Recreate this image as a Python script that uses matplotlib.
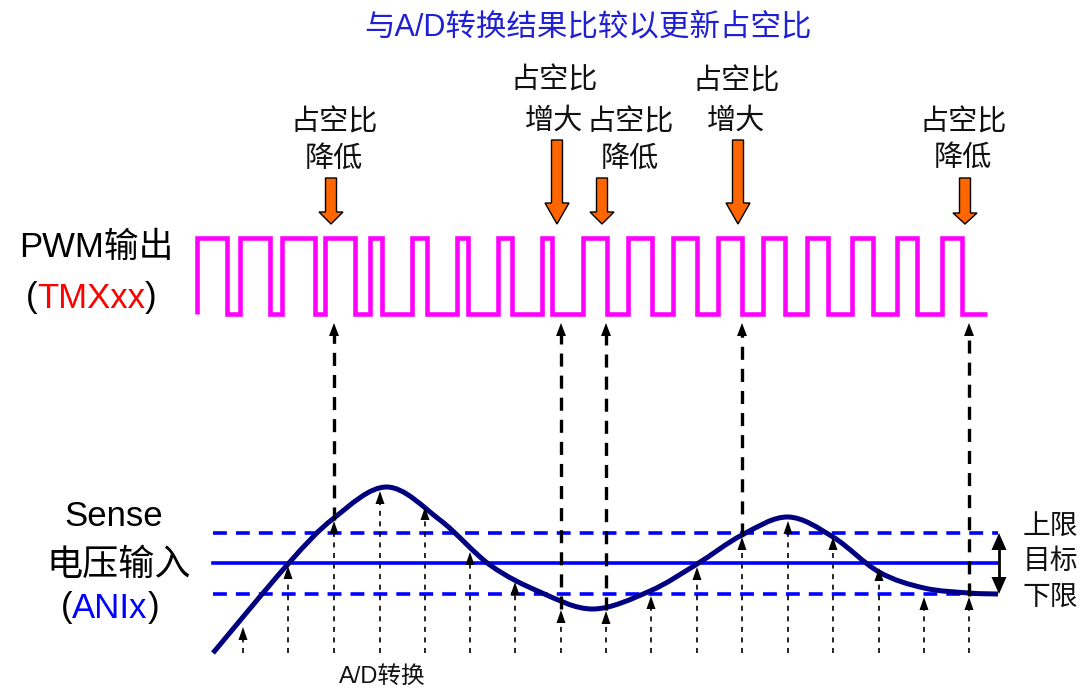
import matplotlib
matplotlib.use('Agg')
import matplotlib.pyplot as plt
from matplotlib.patches import FancyArrow, PathPatch
from matplotlib.path import Path

plt.rcParams['lines.scale_dashes'] = False
FONT = ['Liberation Sans', 'Noto Sans CJK SC', 'DejaVu Sans']
plt.rcParams['font.family'] = FONT

# ---------------- data (pixel space of the diagram) ----------------
title = "与A/D转换结果比较以更新占空比"

pwm_rise = [197, 240, 282, 325, 370, 412, 457, 498, 542, 583, 628, 673, 718, 763, 807, 852, 897, 942]
pwm_fall = [227, 270, 315, 355, 382, 427, 468, 512, 552, 607, 652, 697, 742, 785, 828, 873, 917, 962]
pwm_end = 987
pwm_high = 238
pwm_low = 314

sense_x = [213, 288, 334, 387, 440, 490, 540, 593, 650, 697, 742, 788, 833, 879, 924, 969, 998]
sense_y = [653, 564, 518, 487, 520, 565, 592, 609, 591, 564, 535, 517, 537, 572, 588, 593, 594]

upper_limit = 533
target = 563
lower_limit = 594
limit_x = [213, 998]

sample_x = [243, 288, 334, 380, 425, 470, 515, 561, 606, 651, 697, 742, 788, 833, 879, 924, 969]
sample_tip = [627, 566, 521, 491, 507, 552, 582, 610, 611, 596, 567, 537, 521, 537, 568, 597, 597]
sample_base = 653
update_idx = [2, 7, 8, 11, 16]
update_top = 323

duty_x = [331, 557, 602, 738, 965]
duty_top = [178, 140, 178, 140, 178]
duty_tip = 224
duty_head = [12, 21, 12, 21, 11]
duty_line1 = ["占空比", "占空比", "占空比", "占空比", "占空比"]
duty_line2 = ["降低", "增大", "降低", "增大", "降低"]
duty_tx = [334, 554, 630, 736, 963]
duty_ty1 = [122, 80, 122, 81, 122]
duty_ty2 = [159, 121, 159, 121, 158]

limit_labels = ["上限", "目标", "下限"]
limit_label_y = [527, 562, 598]

# ---------------- figure ----------------
fig = plt.figure(figsize=(10.82, 6.90), dpi=100)
ax = fig.add_axes([0, 0, 1, 1])
ax.set_xlim(0, 1082)
ax.set_ylim(690, 0)
ax.axis('off')


def head(x, tip, length, width, up=True, color='black'):
    # up=True: arrow points towards smaller y (upwards on the page)
    s = 1 if up else -1
    ax.fill([x - width / 2, x, x + width / 2], [tip + s * length, tip, tip + s * length],
            color=color, lw=0, zorder=5)


def smooth_path(xs, ys):
    pts = list(zip(xs, ys))
    verts = [pts[0]]
    codes = [Path.MOVETO]
    n = len(pts)
    for i in range(n - 1):
        p0 = pts[max(i - 1, 0)]
        p1 = pts[i]
        p2 = pts[i + 1]
        p3 = pts[min(i + 2, n - 1)]
        c1 = (p1[0] + (p2[0] - p0[0]) / 6, p1[1] + (p2[1] - p0[1]) / 6)
        c2 = (p2[0] - (p3[0] - p1[0]) / 6, p2[1] - (p3[1] - p1[1]) / 6)
        verts += [c1, c2, p2]
        codes += [Path.CURVE4] * 3
    return Path(verts, codes)


# title
ax.text(588, 27, title, ha='center', va='center', fontsize=22, color='#1f1fd6')

# PWM waveform
px = [pwm_rise[0]]
py = [pwm_low]
for r, f in zip(pwm_rise, pwm_fall):
    px += [r, r, f, f]
    py += [pwm_low, pwm_high, pwm_high, pwm_low]
px.append(pwm_end)
py.append(pwm_low)
ax.plot(px, py, color='#FF00FF', lw=3.3, solid_joinstyle='miter', solid_capstyle='butt', zorder=3)

# limit lines
ax.plot(limit_x, [upper_limit] * 2, color='#0000FF', lw=2.6, ls=(0, (10, 6.5)), dash_capstyle='butt')
ax.plot(limit_x, [lower_limit] * 2, color='#0000FF', lw=2.6, ls=(0, (10, 6.5)), dash_capstyle='butt')
ax.plot(limit_x, [target] * 2, color='#0000FF', lw=2.6)

# sense curve
ax.add_patch(PathPatch(smooth_path(sense_x, sense_y), fc='none', ec='#000080', lw=3.6,
                       capstyle='butt', zorder=4))

# sample arrows
for i, (x, t) in enumerate(zip(sample_x, sample_tip)):
    ax.plot([x, x], [sample_base, t + 11], color='black', lw=1.2, ls=(0, (3.6, 4.0)), zorder=5)
    head(x, t, 13, 9)
    if i in update_idx:
        ax.plot([x, x], [t - 1, update_top + 12], color='black', lw=2.4,
                ls=(0, (9.4, 6.5)), dash_capstyle='butt', zorder=5)
        head(x, update_top, 13, 10)

# duty arrows + labels
for x, top, hl, l1, l2, tx, y1, y2 in zip(duty_x, duty_top, duty_head, duty_line1, duty_line2,
                                          duty_tx, duty_ty1, duty_ty2):
    ax.add_patch(FancyArrow(x, top, 0, duty_tip - top, width=11, head_width=24, head_length=hl,
                            length_includes_head=True, fc='#FF6600', ec='black', lw=1.0, zorder=6))
    ax.text(tx, y1, l1, ha='center', va='center', fontsize=21, color='#111111')
    ax.text(tx, y2, l2, ha='center', va='center', fontsize=21, color='#111111')

# double arrow for limit band
ax.plot([999, 999], [upper_limit + 15, lower_limit - 15], color='black', lw=2.0)
head(999, upper_limit, 17, 15, up=True)
head(999, lower_limit, 17, 15, up=False)
for lab, y in zip(limit_labels, limit_label_y):
    ax.text(1050, y, lab, ha='center', va='center', fontsize=20, color='#111111')

ax.text(382, 677, "A/D转换", ha='center', va='center', fontsize=17, color='#111111')

# left labels
ax.text(96, 247, "PWM输出", ha='center', va='center', fontsize=25, color='black')
ax.text(114, 517, "Sense", ha='center', va='center', fontsize=25, color='black')
ax.text(119, 565, "电压输入", ha='center', va='center', fontsize=26, color='black')


def rainbow(cx, cy, parts, size):
    arts = [ax.text(0, cy, s, ha='left', va='center', fontsize=size, color=c) for s, c in parts]
    fig.canvas.draw()
    r = fig.canvas.get_renderer()
    widths = [a.get_window_extent(renderer=r).width for a in arts]
    x = cx - sum(widths) / 2
    for a, w in zip(arts, widths):
        a.set_x(x)
        x += w


rainbow(91, 298, [("(", 'black'), ("TMXxx", '#FF0000'), (")", 'black')], 25)
rainbow(110, 608, [("(", 'black'), ("ANIx", '#0000FF'), (")", 'black')], 25)

fig.savefig('out.png', dpi=100)
